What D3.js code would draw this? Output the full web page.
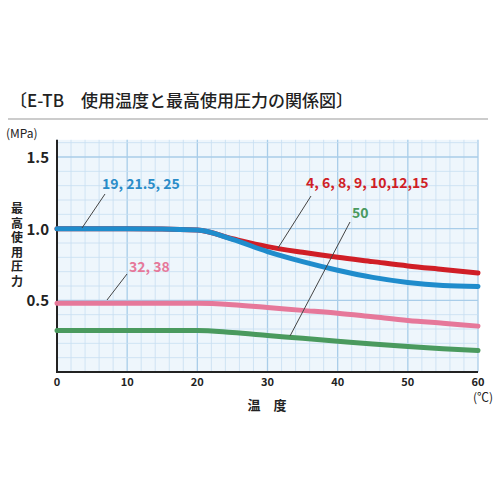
<!DOCTYPE html>
<html><head><meta charset="utf-8">
<script src="https://cdn.jsdelivr.net/npm/d3@7"></script>
<style>body{margin:0;background:#fff}text{font-family:"Noto Sans CJK JP","Noto Sans",sans-serif}</style>
</head><body><div id="chart"></div>
<script>
const temps = [0, 10, 20, 25, 30, 35, 40, 45, 50, 55, 60]
const blue = [1.0, 1.0, 0.99, 0.925, 0.84, 0.77, 0.71, 0.66, 0.625, 0.604, 0.597]
const red = [1.0, 1.0, 0.99, 0.93, 0.875, 0.835, 0.80, 0.77, 0.74, 0.715, 0.69]
const pink = [0.48, 0.48, 0.48, 0.47, 0.45, 0.43, 0.41, 0.385, 0.36, 0.34, 0.32]
const green = [0.29, 0.29, 0.29, 0.275, 0.255, 0.235, 0.215, 0.195, 0.178, 0.163, 0.15]
const xTicks = [0, 10, 20, 30, 40, 50, 60]
const yTicks = [0.5, 1.0, 1.5]

const svg = d3.select("#chart").append("svg").attr("width", 500).attr("height", 500)
const x = d3.scaleLinear().domain([0, 60]).range([57, 478])
const y = d3.scaleLinear().domain([0, 1.5]).range([372, 157])

svg.append("text").attr("x", 10).attr("y", 107).attr("font-size", 17).attr("font-weight", 500).attr("fill", "#222")
  .text("〔E-TB　使用温度と最高使用圧力の関係図〕")
svg.append("line").attr("x1", 8).attr("x2", 488).attr("y1", 119).attr("y2", 119).attr("stroke", "#999")

// grid
svg.append("rect").attr("x", x(0)).attr("y", y(1.62)).attr("width", x(60) - x(0)).attr("height", y(0) - y(1.62)).attr("fill", "#eef6fc")
for (let v = 0; v <= 60; v += 2) {
  svg.append("line").attr("x1", x(v)).attr("x2", x(v)).attr("y1", y(0)).attr("y2", y(1.62))
    .attr("stroke", v % 10 == 0 ? "#a9cde9" : "#c6def1").attr("stroke-width", v % 10 == 0 ? 1.3 : 0.8)
}
for (let i = 0; i <= 16; i++) {
  const v = i / 10
  svg.append("line").attr("x1", x(0)).attr("x2", x(60)).attr("y1", y(v)).attr("y2", y(v))
    .attr("stroke", i % 5 == 0 ? "#a9cde9" : "#c6def1").attr("stroke-width", i % 5 == 0 ? 1.3 : 0.8)
}
svg.append("path").attr("d", `M${x(0)},${y(1.62)}V${y(0)}H${x(60)}`).attr("fill", "none").attr("stroke", "#222").attr("stroke-width", 2)

svg.selectAll(".xt").data(xTicks).join("text").attr("x", d => x(d)).attr("y", 386).attr("text-anchor", "middle")
  .attr("font-size", 11).attr("font-weight", "bold").attr("fill", "#222").text(d => d)
svg.selectAll(".yt").data(yTicks).join("text").attr("x", 49).attr("y", d => y(d) + 6).attr("text-anchor", "end")
  .attr("font-size", 15).attr("font-weight", "bold").attr("fill", "#222").text(d => d.toFixed(1))
svg.append("text").attr("x", 6).attr("y", 138).attr("font-size", 12).attr("fill", "#222").text("(MPa)")
svg.append("text").attr("x", 473).attr("y", 402).attr("font-size", 12).attr("fill", "#222").text("(℃)")
svg.append("text").attr("x", 267).attr("y", 410).attr("text-anchor", "middle").attr("font-size", 13).attr("font-weight", "bold").attr("fill", "#222").text("温　度")
"最高使用圧力".split("").forEach((c, i) => svg.append("text").attr("x", 17).attr("y", 213 + i * 14.5)
  .attr("text-anchor", "middle").attr("font-size", 12).attr("font-weight", "bold").attr("fill", "#222").text(c))

const line = d3.line().x((d, i) => x(temps[i])).y(d => y(d)).curve(d3.curveMonotoneX)
const series = [[green, "#4a9a5e"], [pink, "#e6789a"], [red, "#d01e26"], [blue, "#1f8ccc"]]
series.forEach(([s, c]) => svg.append("path").attr("d", line(s)).attr("fill", "none").attr("stroke", c).attr("stroke-width", 5).attr("stroke-linecap", "round"))

const labels = [
  ["19, 21.5, 25", "#2a8cc8", 102, 189, [105, 194, 82, 228]],
  ["4, 6, 8, 9, 10,12,15", "#d01e26", 306, 188, [311, 196, 278, 248]],
  ["50", "#4a9a5e", 352, 218, [350, 222, 290, 336]],
  ["32, 38", "#e6789a", 129, 272, [127, 274, 107, 300]]
]
labels.forEach(([t, c, tx, ty, l]) => {
  svg.append("line").attr("x1", l[0]).attr("y1", l[1]).attr("x2", l[2]).attr("y2", l[3]).attr("stroke", "#444").attr("stroke-width", 1)
  svg.append("text").attr("x", tx).attr("y", ty).attr("font-size", 14).attr("font-weight", "bold").attr("fill", c).text(t)
})
</script></body></html>
